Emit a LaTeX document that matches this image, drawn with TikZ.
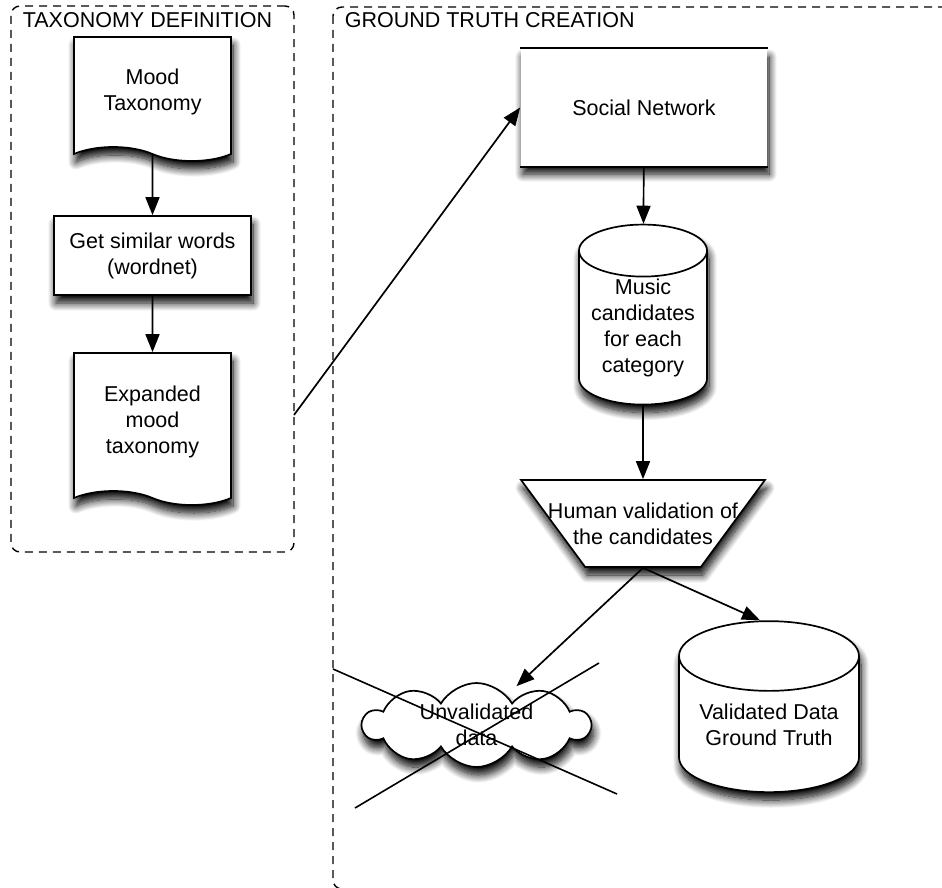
\documentclass[tikz,border=0pt]{standalone}
\usepackage{fontspec}
\setmainfont{Liberation Sans}
\usetikzlibrary{shapes.geometric}
\usetikzlibrary{shapes.symbols}
\usetikzlibrary{arrows.meta}
\usetikzlibrary{shadows.blur}
\usetikzlibrary{positioning}
\newcommand{\blankmark}{\phantom{\rule{2pt}{2pt}}}
\tikzset{
    softshadow/.style = {blur shadow={shadow xshift=2pt, shadow yshift=-8pt, shadow blur radius=8pt, shadow blur steps=12, shadow opacity=100}},
    docnode/.style = {tape, tape bend top=none, tape bend bottom=out and in, tape bend height=14pt, draw, fill=white, softshadow, minimum width=157pt, align=center, inner sep=0pt},
    procnode/.style = {rectangle, draw, fill=white, softshadow, align=center, minimum width=197pt, minimum height=79pt, inner sep=0pt},
    netnode/.style = {rectangle, fill=white, softshadow, minimum width=246pt, minimum height=117pt, inner sep=0pt},
    storenode/.style = {cylinder, shape border rotate=90, aspect=0.5, draw, fill=white, softshadow, align=center, inner sep=0pt},
    trapnode/.style = {trapezium, shape border rotate=180, trapezium angle=61, trapezium stretches=true, draw, fill=white, softshadow, minimum width=244pt, minimum height=87pt, inner sep=1pt},
    cloudnode/.style = {cloud, cloud puffs=10, cloud puff arc=120, cloud ignores aspect, draw, fill=white, softshadow, minimum width=227pt, minimum height=84pt, inner sep=1pt},
    groupbox/.style = {draw, line width=1.4pt, dash pattern=on 8pt off 6pt, rounded corners=9pt},
    grouptitle/.style = {anchor=west, inner sep=0pt},
    inlabel/.style = {align=center, inner sep=0pt},
    flow/.style = {-{Triangle[length=18pt,width=14pt]}},
    strike/.style = {line width=1.6pt}
}
\begin{document}
\begin{tikzpicture}[
	x=1pt, y=-1pt,
	line width=1.7pt,
	font=\fontsize{21.5}{26}\selectfont
]
\useasboundingbox (0,0) rectangle (942,888);
% groups
\node[groupbox, minimum width=283pt, minimum height=546pt] (taxbox) at (152.5,279) {};
\node[grouptitle] (taxtitle) at (22,20) {TAXONOMY DEFINITION};
\begin{scope}
\clip (0,0) rectangle (942,888);
\draw[groupbox] (333,7) rectangle (1000,889);
\end{scope}
\node[grouptitle] (gttitle) at (344,20) {GROUND TRUTH CREATION};
%
\node[docnode, minimum height=124pt] (mood) at (152.5,92) {Mood\\Taxonomy};
\node[procnode] (getsim) at (152.5,255.5) {Get similar words\\(wordnet)};
\node[docnode, minimum height=152pt] (expanded) at (152.5,422) {Expanded\\mood\\taxonomy};
%
\node[netnode] (social) at (644,107.5) {Social Network};
\draw[line width=2.4pt] (social.north west) -- (social.north east);
\draw (social.south west) -- (social.south east);
\node[storenode, minimum width=128pt, minimum height=180pt] (music) at (643,328) {Music\\candidates\\for each\\category};
\node[trapnode, label={[inlabel]center:{Human validation of\\the candidates}}] (human) at (643,523.5) {\blankmark};
\node[cloudnode, label={[inlabel]center:{Unvalidated\\data}}] (unval) at (476.5,725) {\blankmark};
\node[storenode, minimum width=180pt, minimum height=171pt] (valid) at (769,724.5) {Validated Data\\Ground Truth};
%
\coordinate (taxout) at (294,415);
\draw[flow] (mood) -- (getsim);
\draw[flow] (getsim) -- (expanded);
\draw[flow] (taxout) -- (social.west);
\draw[flow] (social) -- (music);
\draw[flow] (music) -- (human);
\draw[flow] (human.south) -- ([xshift=40pt,yshift=-4pt]unval.north);
\draw[flow] (human.south) -- ([xshift=-9pt]valid.north);
%
\coordinate (xnw) at (333,669);
\coordinate (xse) at (617,794);
\coordinate (xne) at (599,663);
\coordinate (xsw) at (355,808);
\draw[strike] (xnw) -- (xse);
\draw[strike] (xne) -- (xsw);
\end{tikzpicture}
\end{document}
